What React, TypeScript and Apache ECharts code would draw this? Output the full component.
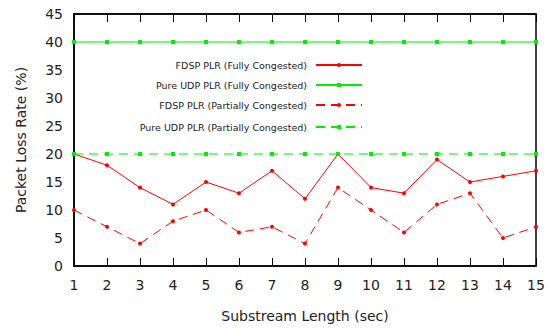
import React, { useEffect, useRef } from "react";
import * as echarts from "echarts";

const categories = ["1", "2", "3", "4", "5", "6", "7", "8", "9", "10", "11", "12", "13", "14", "15"];
const fdspFull = [20, 18, 14, 11, 15, 13, 17, 12, 20, 14, 13, 19, 15, 16, 17];
const udpFull = [40, 40, 40, 40, 40, 40, 40, 40, 40, 40, 40, 40, 40, 40, 40];
const fdspPartial = [10, 7, 4, 8, 10, 6, 7, 4, 14, 10, 6, 11, 13, 5, 7];
const udpPartial = [20, 20, 20, 20, 20, 20, 20, 20, 20, 20, 20, 20, 20, 20, 20];
const seriesNames = [
  "FDSP PLR (Fully Congested)",
  "Pure UDP PLR (Fully Congested)",
  "FDSP PLR (Partially Congested)",
  "Pure UDP PLR (Partially Congested)",
];

const FONT = "DejaVu Sans";
const RED = "#ff0000";
const GREEN = "#00ee00";

export default function App() {
  const ref = useRef<HTMLDivElement>(null);
  useEffect(() => {
    const chart = echarts.init(ref.current!, null, { renderer: "svg" });
    const legendTops = [55, 75, 95, 117];
    chart.setOption({
      animation: false,
      textStyle: { fontFamily: FONT },
      grid: {
        left: 74,
        right: 13,
        top: 14,
        bottom: 62,
        show: true,
        borderColor: "#000",
        borderWidth: 1.5,
        backgroundColor: "transparent",
      },
      legend: seriesNames.map((n, i) => ({
        data: [n],
        right: 181,
        top: legendTops[i],
        align: "right",
        itemWidth: 46,
        itemHeight: 5,
        textStyle: { fontFamily: FONT, fontSize: 9.5, color: "#222", padding: [0, 4, 0, 0] },
        selectedMode: false,
      })),
      xAxis: [
        {
          type: "category",
          data: categories,
          boundaryGap: false,
          position: "bottom",
          name: "Substream Length (sec)",
          nameLocation: "middle",
          nameGap: 43,
          nameTextStyle: { fontFamily: FONT, fontSize: 14, color: "#222" },
          axisLine: { show: true, lineStyle: { color: "#000", width: 1.5 } },
          axisTick: { show: true, inside: true, length: 8, lineStyle: { color: "#000", width: 1 } },
          axisLabel: { fontFamily: FONT, fontSize: 14, color: "#222", margin: 12 },
          splitLine: { show: false },
        },
        {
          type: "category",
          data: categories,
          boundaryGap: false,
          position: "top",
          axisLine: { show: true, lineStyle: { color: "#000", width: 1.5 } },
          axisTick: { show: true, inside: true, length: 8, lineStyle: { color: "#000", width: 1 } },
          axisLabel: { show: false },
          splitLine: { show: false },
        },
      ],
      yAxis: {
        type: "value",
        min: 0,
        max: 45,
        interval: 5,
        name: "Packet Loss Rate (%)",
        nameLocation: "middle",
        nameGap: 46,
        nameTextStyle: { fontFamily: FONT, fontSize: 14, color: "#222" },
        axisLine: { show: true, lineStyle: { color: "#000", width: 1.5 } },
        axisTick: { show: false },
        axisLabel: { fontFamily: FONT, fontSize: 14, color: "#222", margin: 11 },
        splitLine: { show: false },
      },
      series: [
        {
          name: seriesNames[0],
          type: "line",
          data: fdspFull,
          symbol: "circle",
          symbolSize: 4,
          itemStyle: { color: RED },
          lineStyle: { color: RED, width: 1 },
        },
        {
          name: seriesNames[1],
          type: "line",
          data: udpFull,
          symbol: "rect",
          symbolSize: 4,
          itemStyle: { color: GREEN },
          lineStyle: { color: GREEN, width: 1.2 },
        },
        {
          name: seriesNames[2],
          type: "line",
          data: fdspPartial,
          symbol: "circle",
          symbolSize: 4,
          itemStyle: { color: RED },
          lineStyle: { color: RED, width: 1, type: [9, 6] },
        },
        {
          name: seriesNames[3],
          type: "line",
          data: udpPartial,
          symbol: "rect",
          symbolSize: 4,
          itemStyle: { color: GREEN },
          lineStyle: { color: GREEN, width: 1.2, type: [9, 6] },
        },
      ],
    });
    return () => chart.dispose();
  }, []);
  return <div ref={ref} style={{ width: 549, height: 328, position: "absolute", left: 0, top: 0 }} />;
}
